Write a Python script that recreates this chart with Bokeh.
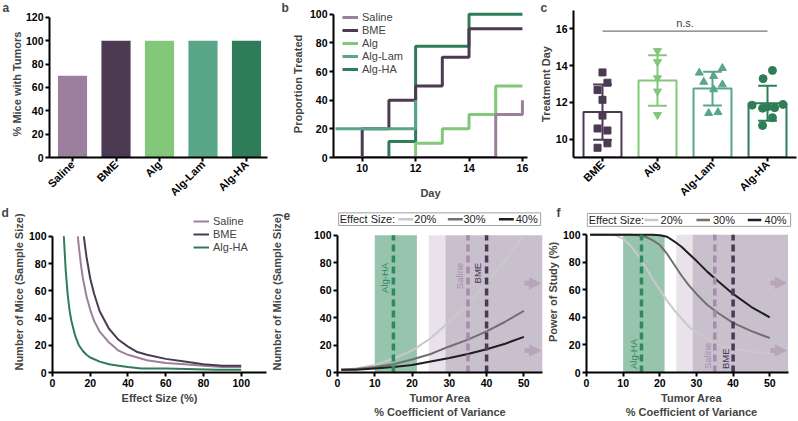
import math
from bokeh.plotting import figure
from bokeh.layouts import row, column
from bokeh.models import FixedTicker, Legend, LegendItem, Arrow, NormalHead, Range1d
from bokeh.core.properties import value
from bokeh.embed import file_html
from bokeh.resources import INLINE

FONT = "Liberation Sans"

# ---------------- data ----------------
# (a) % mice with tumors
groups_a = ["Saline", "BME", "Alg", "Alg-Lam", "Alg-HA"]
pct_tumors = [70, 100, 100, 100, 100]

# (b) proportion treated by day
days = [9, 10, 11, 12, 13, 14, 15, 16]
treated_saline = [0, 0, 0, 0, 0, 0, 30, 40]
treated_bme = [0, 20, 40, 50, 70, 90, 90, 90]
treated_alg = [0, 0, 0, 10, 20, 30, 50, 50]
days_alg_lam = [9, 10, 11, 12]
treated_alg_lam = [20, 20, 20, 40]
treated_alg_ha = [0, 0, 11.1, 77.8, 77.8, 100, 100, 100]

# (c) treatment day
groups_c = ["BME", "Alg", "Alg-Lam", "Alg-HA"]
treat_mean = [11.47, 13.19, 12.75, 11.95]
treat_sd = [1.50, 1.37, 0.92, 0.95]
day_bme = [13.63, 13.07, 12.67, 12.14, 11.28, 10.58, 10.47, 9.77, 9.53]
jit_bme = [0.0, 0.09, -0.09, 0.0, 0.0, -0.09, 0.09, 0.09, -0.09]
day_alg = [14.8, 14.2, 13.32, 12.6, 11.32]
jit_alg = [0.0, 0.0, 0.0, 0.0, 0.0]
day_alg_lam = [13.61, 13.86, 13.43, 13.11, 12.97, 12.70, 11.41, 11.46]
jit_alg_lam = [-0.24, 0.18, 0.02, -0.16, 0.18, 0.02, -0.07, 0.10]
day_alg_ha = [13.74, 13.29, 11.85, 11.68, 11.76, 11.71, 11.89, 11.17, 10.74]
jit_alg_ha = [0.09, -0.08, -0.28, -0.09, 0.0, 0.13, 0.28, 0.09, -0.09]
ns_level = 15.88

# (d) sample size vs effect size
eff_saline = [13.4, 14, 15, 16, 18, 20, 22, 25, 30, 35, 40, 45, 50, 60, 70, 80, 90, 100]
n_saline = [100, 92, 80, 70, 56, 46, 38, 30, 22, 16, 13, 11, 9, 7, 6, 5, 4, 4]
eff_bme = [16.6, 18, 20, 22, 25, 30, 35, 40, 45, 50, 60, 70, 80, 90, 100]
n_bme = [100, 85, 69, 58, 45, 32, 24, 19, 15, 13, 10, 8, 6, 5, 5]
eff_alg_ha = [6, 7, 8, 9, 10, 12, 14, 16, 18, 20, 25, 30, 35, 40, 47, 60, 87, 100]
n_alg_ha = [100, 75, 58, 46, 38, 27, 20, 16, 13, 11, 8, 6, 5, 4, 3, 3, 2, 2]

# (e) sample size vs tumor-area CV
cv = [1, 5, 10, 15, 20, 25, 30, 35, 40, 45, 50]
n_eff20 = [2.2, 3, 5.5, 10, 16, 25, 37, 50, 65, 82, 100]
n_eff30 = [2, 2.5, 4, 6, 9.5, 13.5, 19, 24, 30, 37, 45]
n_eff40 = [2, 2, 3, 4, 5.5, 8, 10.5, 13.5, 17, 21, 26]

# (f) power vs tumor-area CV
cv_f = [1, 5, 8, 10, 12, 14, 16, 18, 20, 22, 24, 26, 28, 30, 33, 36, 40, 45, 50]
pow20 = [100, 100, 99.5, 97, 92, 85, 77, 68, 60, 52, 45, 39, 33, 29, 24, 20, 17, 15, 14]
pow30 = [100, 100, 100, 100, 100, 99.5, 98.5, 96, 92.5, 86, 78, 70, 63, 57, 49, 43, 36, 30, 25]
pow40 = [100, 100, 100, 100, 100, 100, 100, 100, 99.5, 98.5, 95, 91, 86, 81, 73, 66, 57, 47.5, 40]
effect_labels = ["20%", "30%", "40%"]

# CV ranges per group (e, f)
groups_e = ["Alg-HA", "Saline", "BME"]
cv_band_lo = [10.0, 24.5, 29.0]
cv_band_hi = [21.3, 55.0, 55.0]
cv_group = [15, 35, 40]
arrow_levels = [65, 16]

# ---------------- styles ----------------
C = {"Saline": "#9b7f9d", "BME": "#4c3a53", "Alg": "#82c77a", "Alg-Lam": "#59a688", "Alg-HA": "#2f7c58"}
DASH_C = {"Alg-HA": "#2e8a5b", "Saline": "#a88bae", "BME": "#4a3a56"}
BAND_A = {"Alg-HA": 0.5, "Saline": 0.25, "BME": 0.2}
EFF_C = ["#c9c9c9", "#707070", "#1e1e1e"]
ARROW_C = "#b7a6ba"

TOP_H, BOT_H = 205, 215


def make_fig(w, h, xr, yr, l, r, t, b):
    p = figure(width=w, height=h, x_range=xr, y_range=yr, output_backend="svg",
               toolbar_location=None, min_border_left=l, min_border_right=r,
               min_border_top=t, min_border_bottom=b)
    p.outline_line_color = None
    p.grid.visible = False
    for ax in p.axis:
        ax.axis_line_width = 2
        ax.major_tick_line_width = 2
        ax.major_tick_out = 4
        ax.major_tick_in = 0
        ax.minor_tick_line_color = None
        ax.major_label_text_font = FONT
        ax.major_label_text_font_style = "bold"
        ax.major_label_text_font_size = "10.5px"
        ax.major_label_text_color = "black"
        ax.axis_label_text_font = FONT
        ax.axis_label_text_font_style = "bold"
        ax.axis_label_text_font_size = "11px"
        ax.major_label_standoff = 2
        ax.axis_label_standoff = 2
    return p


def letter(p, txt, offset, standoff):
    p.title.text = txt
    p.title.align = "left"
    p.title.vertical_align = "bottom"
    p.title.offset = offset
    p.title.standoff = standoff
    p.title.text_font = FONT
    p.title.text_font_size = "12px"
    p.title.text_font_style = "bold"


# ---------------- (a) ----------------
xa = list(range(len(groups_a)))
pa = make_fig(268, TOP_H, Range1d(-0.529, 4.483), Range1d(0, 125.9), 49, 1, 10, 45)
pa.vbar(x=xa, top=pct_tumors, width=0.67, fill_color=[C[g] for g in groups_a], line_color=None)
pa.xaxis.ticker = FixedTicker(ticks=xa)
pa.xaxis.major_label_overrides = {i: g for i, g in enumerate(groups_a)}
pa.xaxis.major_label_orientation = math.pi / 4
pa.xaxis.major_label_text_font_size = "11px"
pa.xaxis.major_label_standoff = 1
pa.yaxis.ticker = FixedTicker(ticks=[0, 20, 40, 60, 80, 100, 120])
pa.yaxis.bounds = (0, 120)
pa.yaxis.axis_label = "% Mice with Tumors"
pa.yaxis.axis_label_standoff = 0
letter(pa, "a", -47, -8)

# ---------------- (b) ----------------
pb = make_fig(262, TOP_H, Range1d(8.925, 16.19), Range1d(0, 102.7), 65, 3, 10, 45)
r_ha = pb.step(days, treated_alg_ha, mode="after", line_width=3, line_color=C["Alg-HA"])
r_bme = pb.step(days, treated_bme, mode="after", line_width=3, line_color=C["BME"])
r_alg = pb.step(days, treated_alg, mode="after", line_width=3, line_color=C["Alg"])
r_lam = pb.step(days_alg_lam, treated_alg_lam, mode="after", line_width=3, line_color=C["Alg-Lam"])
r_sal = pb.step(days, treated_saline, mode="after", line_width=3, line_color=C["Saline"])
pb.xaxis.ticker = FixedTicker(ticks=[10, 12, 14, 16])
pb.yaxis.ticker = FixedTicker(ticks=[0, 20, 40, 60, 80, 100])
pb.yaxis.bounds = (0, 100)
pb.xaxis.axis_label = "Day"
pb.xaxis.axis_label_standoff = 12
pb.yaxis.axis_label = "Proportion Treated"
pb.yaxis.axis_label_standoff = 3
leg_b = Legend(items=[LegendItem(label="Saline", renderers=[r_sal]),
                      LegendItem(label="BME", renderers=[r_bme]),
                      LegendItem(label="Alg", renderers=[r_alg]),
                      LegendItem(label="Alg-Lam", renderers=[r_lam]),
                      LegendItem(label="Alg-HA", renderers=[r_ha])],
               location=(9, 82), spacing=1)
pb.add_layout(leg_b)
letter(pb, "b", -52, -8)

# ---------------- (c) ----------------
xc = list(range(len(groups_c)))
pc = make_fig(267, TOP_H, Range1d(-0.527, 3.527), Range1d(9, 17), 43, 1, 10, 45)
cols_c = [C[g] for g in groups_c]
pc.vbar(x=xc, top=treat_mean, bottom=9, width=0.69, fill_color="white",
        line_color=cols_c, line_width=2)
lo = [m - s for m, s in zip(treat_mean, treat_sd)]
hi = [m + s for m, s in zip(treat_mean, treat_sd)]
pc.segment(x0=xc, y0=lo, x1=xc, y1=hi, line_color=cols_c, line_width=2)
pc.segment(x0=[x - 0.17 for x in xc], y0=lo, x1=[x + 0.17 for x in xc], y1=lo, line_color=cols_c, line_width=2)
pc.segment(x0=[x - 0.17 for x in xc], y0=hi, x1=[x + 0.17 for x in xc], y1=hi, line_color=cols_c, line_width=2)
pc.scatter(x=[xc[0] + j for j in jit_bme], y=day_bme, marker="square", size=7, color=C["BME"])
pc.scatter(x=[xc[1] + j for j in jit_alg], y=day_alg, marker="inverted_triangle", size=8, color=C["Alg"])
pc.scatter(x=[xc[2] + j for j in jit_alg_lam], y=day_alg_lam, marker="triangle", size=8, color=C["Alg-Lam"])
pc.scatter(x=[xc[3] + j for j in jit_alg_ha], y=day_alg_ha, marker="circle", size=8, color=C["Alg-HA"])
pc.line(x=[xc[0], xc[-1]], y=[ns_level, ns_level], line_color="#777777", line_width=1.3)
pc.text(x=[(xc[0] + xc[-1]) / 2], y=[ns_level + 0.12], text=["n.s."], text_align="center",
        text_baseline="bottom", text_font=value(FONT), text_font_size=value("11px"), text_color="#444444")
pc.xaxis.ticker = FixedTicker(ticks=xc)
pc.xaxis.major_label_overrides = {i: g for i, g in enumerate(groups_c)}
pc.xaxis.major_label_orientation = math.pi / 4
pc.xaxis.major_label_text_font_size = "11px"
pc.xaxis.major_label_standoff = 1
pc.yaxis.ticker = FixedTicker(ticks=[10, 12, 14, 16])
pc.yaxis.axis_label = "Treatment Day"
pc.yaxis.axis_label_standoff = 1
letter(pc, "c", -33, -8)

# ---------------- (d) ----------------
pd_ = make_fig(267, BOT_H, Range1d(0, 113.4), Range1d(0, 118.2), 52, 1, 6, 47)
d_sal = pd_.line(eff_saline, n_saline, line_width=2, line_color=C["Saline"])
d_bme = pd_.line(eff_bme, n_bme, line_width=2, line_color=C["BME"])
d_ha = pd_.line(eff_alg_ha, n_alg_ha, line_width=2, line_color=C["Alg-HA"])
pd_.xaxis.ticker = FixedTicker(ticks=[0, 20, 40, 60, 80, 100])
pd_.yaxis.ticker = FixedTicker(ticks=[0, 20, 40, 60, 80, 100])
pd_.yaxis.bounds = (0, 100)
pd_.xaxis.axis_label = "Effect Size (%)"
pd_.xaxis.axis_label_standoff = 2
pd_.yaxis.axis_label = "Number of Mice (Sample Size)"
pd_.yaxis.axis_label_standoff = 1
leg_d = Legend(items=[LegendItem(label="Saline", renderers=[d_sal]),
                      LegendItem(label="BME", renderers=[d_bme]),
                      LegendItem(label="Alg-HA", renderers=[d_ha])],
               location=(141, 119), spacing=1)
pd_.add_layout(leg_d)
letter(pd_, "d", -51, -16)

for lg in (leg_b, leg_d):
    lg.background_fill_alpha = 0
    lg.border_line_color = None
    lg.label_text_font = FONT
    lg.label_text_font_size = "11px"
    lg.glyph_width = 16
    lg.glyph_height = 12
    lg.label_height = 12
    lg.padding = 0
    lg.margin = 0
    lg.label_standoff = 4


# ---------------- (e), (f) shared pieces ----------------
def cv_bands(p):
    for g, lo_, hi_ in zip(groups_e, cv_band_lo, cv_band_hi):
        p.quad(left=lo_, right=hi_, bottom=0, top=100, fill_color=DASH_C[g],
               fill_alpha=BAND_A[g], line_color=None)


def cv_marks(p, gap, at_top):
    p.segment(x0=cv_group, y0=0, x1=cv_group, y1=100, line_dash="7 4", line_width=3.5,
              line_color=[DASH_C[g] for g in groups_e])
    p.text(x=[c - gap for c in cv_group], y=[80 if at_top else 2.5] * 3, text=groups_e,
           angle=math.pi / 2, text_align="right" if at_top else "left", text_baseline="bottom",
           text_font=value(FONT), text_font_size=value("9.5px"),
           text_color=[DASH_C[g] for g in groups_e])
    for yv in arrow_levels:
        p.add_layout(Arrow(end=NormalHead(size=11, fill_color=ARROW_C, line_color=ARROW_C),
                           x_start=50.2, x_end=54.5, y_start=yv, y_end=yv,
                           line_color=ARROW_C, line_width=5))


def effect_legend(p, box, ymid, text_x, line_x, line_len, label_x):
    p.quad(left=box[0], right=box[1], bottom=box[2], top=box[3], fill_color="white",
           line_color="#a0a0a0", line_width=1)
    p.text(x=[text_x], y=[ymid], text=["Effect Size:"], text_baseline="middle",
           text_font=value(FONT), text_font_size=value("11px"), text_color="#222222")
    p.segment(x0=line_x, y0=[ymid] * 3, x1=[x + line_len for x in line_x], y1=[ymid] * 3,
              line_color=EFF_C, line_width=2.5)
    p.text(x=label_x, y=[ymid] * 3, text=effect_labels, text_baseline="middle",
           text_font=value(FONT), text_font_size=value("11px"), text_color="#222222")


# ---------------- (e) ----------------
pe = make_fig(276, BOT_H, Range1d(0, 55), Range1d(0, 117.4), 69, 1, 6, 47)
cv_bands(pe)
pe.line(cv, n_eff20, line_width=2, line_color=EFF_C[0])
pe.line(cv, n_eff30, line_width=2, line_color=EFF_C[1])
pe.line(cv, n_eff40, line_width=2, line_color=EFF_C[2])
cv_marks(pe, 0.9, True)
effect_legend(pe, (0.3, 54.5, 107.2, 116.4), 111.8, 0.6, [16.3, 29.6, 43.3], 4.0, [20.6, 33.8, 47.8])
pe.xaxis.ticker = FixedTicker(ticks=[0, 10, 20, 30, 40, 50])
pe.yaxis.ticker = FixedTicker(ticks=[0, 20, 40, 60, 80, 100])
pe.yaxis.bounds = (0, 100)
pe.xaxis.axis_label = "Tumor Area\n% Coefficient of Variance"
pe.yaxis.axis_label = "Number of Mice (Sample Size)"
pe.yaxis.axis_label_standoff = 28
letter(pe, "e", -54, -16)

# ---------------- (f) ----------------
pf = make_fig(254, BOT_H, Range1d(0, 57.3), Range1d(0, 116.8), 37, 1, 6, 47)
cv_bands(pf)
pf.line(cv_f, pow20, line_width=2, line_color=EFF_C[0])
pf.line(cv_f, pow30, line_width=2, line_color=EFF_C[1])
pf.line(cv_f, pow40, line_width=2, line_color=EFF_C[2])
cv_marks(pf, 0.6, False)
effect_legend(pf, (0.2, 55.7, 106.0, 115.4), 110.7, 0.6, [15.9, 30.0, 44.0], 3.7, [20.2, 34.5, 48.6])
pf.xaxis.ticker = FixedTicker(ticks=[0, 10, 20, 30, 40, 50])
pf.xaxis.bounds = (0, 55)
pf.yaxis.ticker = FixedTicker(ticks=[0, 20, 40, 60, 80, 100])
pf.yaxis.bounds = (0, 100)
pf.xaxis.axis_label = "Tumor Area\n% Coefficient of Variance"
pf.yaxis.axis_label = "Power of Study (%)"
pf.yaxis.axis_label_standoff = 1
letter(pf, "f", -30, -16)

layout = column(row(pa, pb, pc), row(pd_, pe, pf))
open("out.html", "w").write(file_html(layout, INLINE))
